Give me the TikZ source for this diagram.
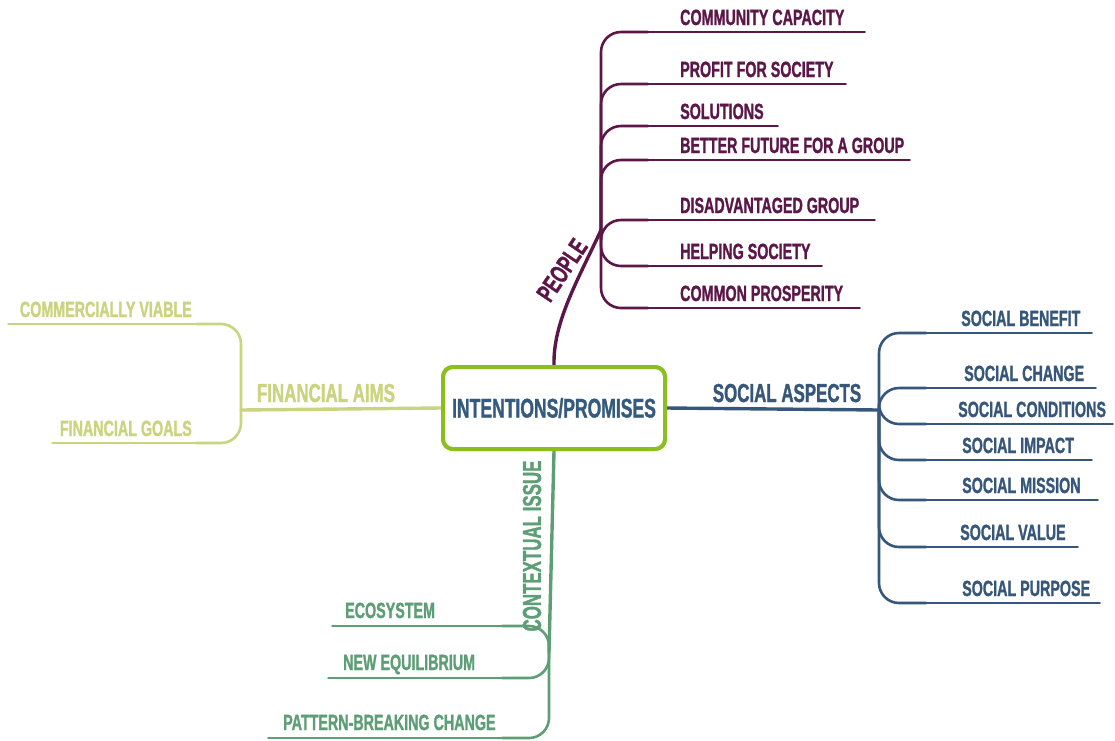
\documentclass[tikz,border=0pt]{standalone}
\usepackage{fontspec}
\usepackage{tikz}
\newfontfamily\mapfont{Liberation Sans}[FakeStretch=0.65, FakeBold=1.2]

\definecolor{topicline}{RGB}{140,190,30}
\definecolor{topictext}{RGB}{52,90,125}
\definecolor{peoplecol}{RGB}{92,22,72}
\definecolor{socialcol}{RGB}{54,86,122}
\definecolor{financecol}{RGB}{200,212,126}
\definecolor{contextcol}{RGB}{94,158,118}

\begin{document}
\begin{tikzpicture}[x=1pt,y=-1pt,line cap=round,line join=round]

        \tikzstyle{topic} = [draw=topicline, line width=4pt, rounded corners=10pt, fill=white, minimum width=222pt, minimum height=82pt, text=topictext, font=\mapfont\bfseries\fontsize{27}{29}\selectfont];
        \tikzstyle{branch} = [inner sep=0pt, font=\mapfont\bfseries\fontsize{26}{28}\selectfont];
        \tikzstyle{leaf} = [inner sep=0pt, font=\mapfont\bfseries\fontsize{22}{24}\selectfont];
        \tikzstyle{stem} = [line width=3.4pt];
        \tikzstyle{twig} = [line width=2.6pt, rounded corners=20pt];
        \tikzstyle{leafline} = [line width=1.5pt];

        \useasboundingbox (0,0) rectangle (1115,740);

        \node[topic] (ip) at (554,408) {INTENTIONS/PROMISES};

        % people
        \coordinate (pj) at (601,230);
        \draw[stem, peoplecol] (ip.north) .. controls (553,322) and (578,280) .. (pj);
        \node[branch, text=peoplecol, rotate=56] (people) at (562,270) {PEOPLE};
        \foreach \n/\t/\y/\e in {p1/COMMUNITY CAPACITY/32/865, p2/PROFIT FOR SOCIETY/84/846,
                p3/SOLUTIONS/126/778, p4/BETTER FUTURE FOR A GROUP/160/910,
                p5/DISADVANTAGED GROUP/220/875, p6/HELPING SOCIETY/266/822,
                p7/COMMON PROSPERITY/308/860} {
            \node[leaf, text=peoplecol, anchor=base west] (\n) at (680,\y-7) {\t};
            \coordinate (\n-s) at (648,\y);
            \coordinate (\n-e) at (\e,\y);
            \draw[twig, peoplecol] (pj) |- (\n-s);
            \draw[leafline, peoplecol] (\n-s) -- (\n-e);
        }

        % social aspects
        \coordinate (sj) at (879,410);
        \draw[stem, socialcol] (ip.east) -- (sj);
        \node[branch, text=socialcol, anchor=base] (social) at (787,402) {SOCIAL ASPECTS};
        \foreach \n/\t/\x/\y/\e in {s1/SOCIAL BENEFIT/961/333/1092, s2/SOCIAL CHANGE/964/388/1096,
                s3/SOCIAL CONDITIONS/958/424/1113, s4/SOCIAL IMPACT/962/460/1092,
                s5/SOCIAL MISSION/962/500/1098, s6/SOCIAL VALUE/960/547/1078,
                s7/SOCIAL PURPOSE/962/603/1100} {
            \node[leaf, text=socialcol, anchor=base west] (\n) at (\x,\y-7) {\t};
            \coordinate (\n-s) at (926,\y);
            \coordinate (\n-e) at (\e,\y);
            \draw[twig, socialcol] (sj) |- (\n-s);
            \draw[leafline, socialcol] (\n-s) -- (\n-e);
        }

        % financial aims
        \coordinate (fj) at (241,410);
        \draw[stem, financecol] (ip.west) -- (fj);
        \node[branch, text=financecol, anchor=base] (finance) at (326,402) {FINANCIAL AIMS};
        \foreach \n/\t/\y/\e in {f1/COMMERCIALLY VIABLE/324/8, f2/FINANCIAL GOALS/443/52} {
            \node[leaf, text=financecol, anchor=base east] (\n) at (192,\y-7) {\t};
            \coordinate (\n-s) at (196,\y);
            \coordinate (\n-e) at (\e,\y);
            \draw[twig, financecol] (fj) |- (\n-s);
            \draw[leafline, financecol] (\n-s) -- (\n-e);
        }

        % contextual issue
        \coordinate (cj) at (549,652);
        \draw[stem, contextcol] (ip.south) -- (cj);
        \node[branch, text=contextcol, rotate=90] (context) at (532,546) {CONTEXTUAL ISSUE};
        \foreach \n/\t/\x/\y/\e in {c1/ECOSYSTEM/345/626/332, c2/NEW EQUILIBRIUM/343/678/328,
                c3/PATTERN-BREAKING CHANGE/283/738/268} {
            \node[leaf, text=contextcol, anchor=base west] (\n) at (\x,\y-8) {\t};
            \coordinate (\n-s) at (502,\y);
            \coordinate (\n-e) at (\e,\y);
            \draw[twig, contextcol] (cj) |- (\n-s);
            \draw[leafline, contextcol] (\n-s) -- (\n-e);
        }

        % keep the topic box on top of the stems
        \node[topic] at (ip) {INTENTIONS/PROMISES};

\end{tikzpicture}
\end{document}
